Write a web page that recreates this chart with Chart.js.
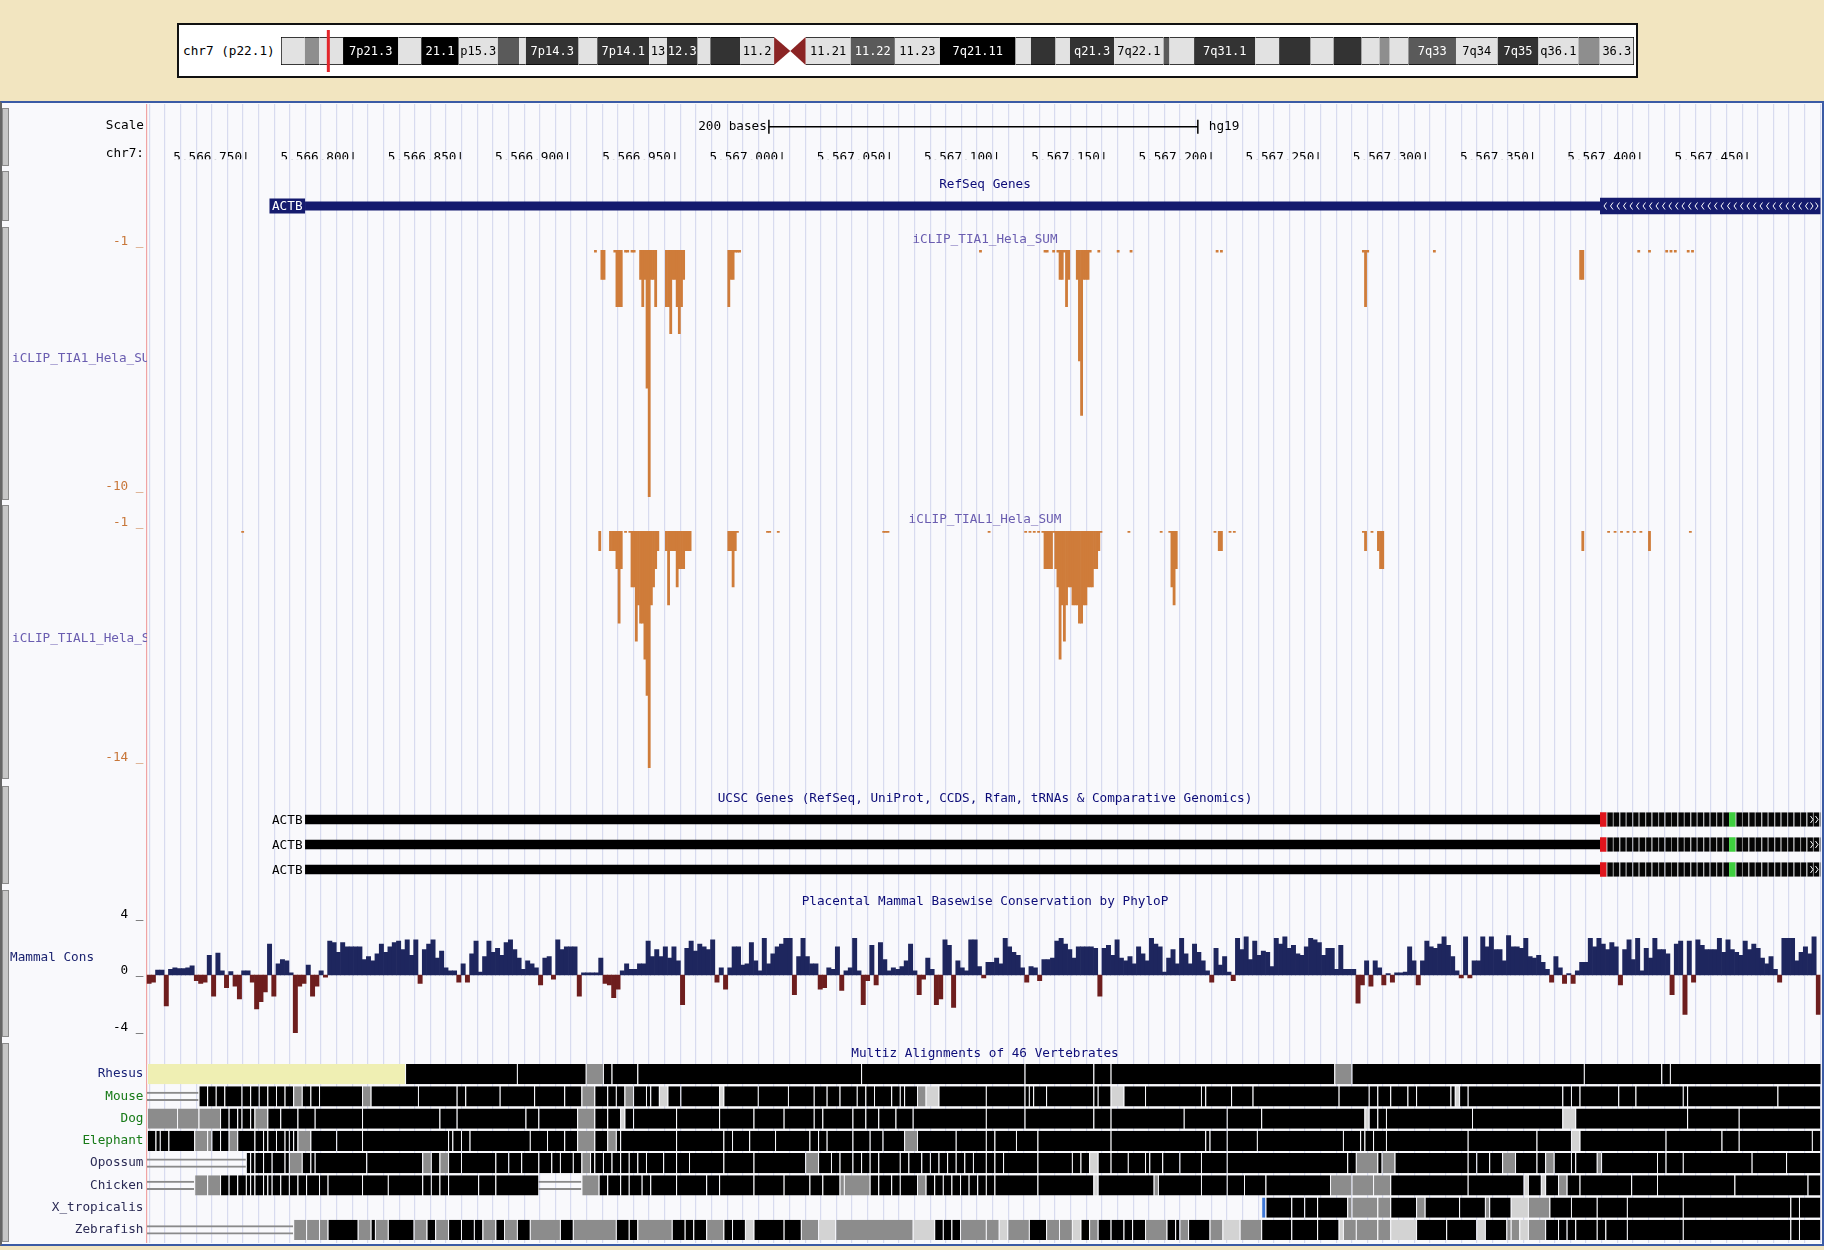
<!DOCTYPE html>
<html lang="en">
<head>
<meta charset="utf-8">
<title>ACTB - UCSC Genome Browser view</title>
<script src="https://cdn.jsdelivr.net/npm/chart.js@4.4.1/dist/chart.umd.min.js"></script>
<style>
  * { box-sizing: border-box; }
  html, body { margin: 0; padding: 0; }
  body {
    width: 1824px; height: 1250px; position: relative; overflow: hidden;
    background: #f2e5c0;
    font-family: 'DejaVu Sans Mono', monospace; font-size: 12.7px;
  }
  canvas { position: absolute; }
  #panel {
    position: absolute; left: 0; top: 101px; width: 1824px; height: 1145px;
    background: #f9f9fc; border: 2px solid #3b5ba5; border-left: 2px solid #666;
  }
  #ideoBox {
    position: absolute; left: 177px; top: 23px; width: 1461px; height: 55px;
    background: #fff; border: 2px solid #111;
  }
  .txt { position: absolute; white-space: nowrap; line-height: 15px; height: 15px; margin-top: -7.5px; z-index: 5; overflow: hidden; }
  .handle { position: absolute; left: 2px; width: 7px; background: #c6c6c6; border: 1px solid #8a8a8a; z-index: 4; }
</style>
</head>
<body>
<div id="panel"></div>
<div id="ideoBox"></div>
<canvas id="ideogram" width="1357" height="42" style="left:279px;top:30px;z-index:3"></canvas>
<canvas id="grid" width="1824" height="1139" style="left:0;top:104px;z-index:1"></canvas>
<canvas id="ruler" width="1824" height="62" style="left:0;top:104px;z-index:2"></canvas>
<canvas id="refseq" width="1824" height="18" style="left:0;top:197px;z-index:2"></canvas>
<canvas id="tia1" width="1824" height="279" style="left:0;top:230px;z-index:2"></canvas>
<canvas id="tial1" width="1824" height="269" style="left:0;top:511px;z-index:2"></canvas>
<canvas id="ucsc" width="1824" height="75" style="left:0;top:807px;z-index:2"></canvas>
<canvas id="phylop" width="1824" height="156" style="left:0;top:893px;z-index:2"></canvas>
<canvas id="multiz" width="1824" height="202" style="left:0;top:1051px;z-index:2"></canvas>
<script>
// ---- window on chr7 (hg19) ----
const viewStart = 5566703.3;
const viewEnd = 5567481.5;
const viewCenter = 5567092;
const rulerTicks = [5566750, 5566800, 5566850, 5566900, 5566950, 5567000, 5567050,
                    5567100, 5567150, 5567200, 5567250, 5567300, 5567350, 5567400, 5567450];
const scaleBar = [5566993.5, 5567193.5];
const gridStart = 5566704.6;
const gridStep = 7.26;

// ---- chr7 ideogram ----
const chr7Length = 159138663;
const cytoStart = [0, 2800000, 4500000, 7300000, 13800000, 16500000, 20900000, 25500000, 28000000,
  28800000, 35000000, 37200000, 43300000, 45400000, 49000000, 50500000, 54000000, 58000000,
  59900000, 61700000, 67000000, 72200000, 77500000, 86400000, 88200000, 91100000, 92800000,
  98000000, 103800000, 104500000, 107400000, 114600000, 117400000, 121100000, 123800000,
  127100000, 129200000, 130400000, 132600000, 138200000, 143100000, 147900000, 152600000, 155100000];
const cytoName = ['p22.3', 'p22.2', 'p22.1', 'p21.3', 'p21.2', 'p21.1', 'p15.3', 'p15.2', 'p15.1',
  'p14.3', 'p14.2', 'p14.1', 'p13', 'p12.3', 'p12.2', 'p12.1', 'p11.2', 'p11.1', 'q11.1', 'q11.21',
  'q11.22', 'q11.23', 'q21.11', 'q21.12', 'q21.13', 'q21.2', 'q21.3', 'q22.1', 'q22.2', 'q22.3',
  'q31.1', 'q31.2', 'q31.31', 'q31.32', 'q31.33', 'q32.1', 'q32.2', 'q32.3', 'q33', 'q34', 'q35',
  'q36.1', 'q36.2', 'q36.3'];
const cytoStain = ['gneg', 'gpos25', 'gneg', 'gpos100', 'gneg', 'gpos100', 'gneg', 'gpos50', 'gneg',
  'gpos75', 'gneg', 'gpos75', 'gneg', 'gpos75', 'gneg', 'gpos75', 'gneg', 'acen', 'acen', 'gneg',
  'gpos50', 'gneg', 'gpos100', 'gneg', 'gpos75', 'gneg', 'gpos75', 'gneg', 'gpos50', 'gneg',
  'gpos75', 'gneg', 'gpos75', 'gneg', 'gpos75', 'gneg', 'gpos25', 'gneg', 'gpos50', 'gneg', 'gpos75',
  'gneg', 'gpos25', 'gneg'];
const cytoLabel = ['', '', '', '7p21.3', '', '21.1', 'p15.3', '', '', '7p14.3', '', '7p14.1', '13',
  '12.3', '', '', '11.2', '', '', '11.21', '11.22', '11.23', '7q21.11', '', '', '', 'q21.3', '7q22.1',
  '', '', '7q31.1', '', '', '', '', '', '', '', '7q33', '7q34', '7q35', 'q36.1', '', '36.3'];

// ---- ACTB gene models ----
const geneName = 'ACTB';
const txStart = 5566777;
const cdsStart = 5567379;
const txEnd = 5570232;
const ucscRows = ['ACTB-1', 'ACTB-2', 'ACTB-3'];
const greenCodon = 20;

// ---- iCLIP counts (minus strand, per base) ----
const tia1Pos = [
  5566912, 5566915, 5566916, 5566921, 5566922, 5566923, 5566924, 5566926, 5566927, 5566929,
  5566930, 5566933, 5566934, 5566935, 5566936, 5566937, 5566938, 5566939, 5566940, 5566945,
  5566946, 5566947, 5566948, 5566949, 5566950, 5566951, 5566952, 5566953, 5566974, 5566975,
  5566976, 5566977, 5566978, 5566979, 5567091, 5567121, 5567122, 5567125, 5567127, 5567128,
  5567129, 5567130, 5567131, 5567132, 5567136, 5567137, 5567138, 5567139, 5567140, 5567141,
  5567142, 5567146, 5567155, 5567161, 5567201, 5567203, 5567269, 5567270, 5567271, 5567302,
  5567370, 5567371, 5567397, 5567402, 5567410, 5567412, 5567414, 5567420, 5567422];
const tia1Val = [
  -1, -2, -2, -1, -3, -3, -3, -1, -1, -1,
  -1, -2, -3, -2, -6, -10, -2, -2, -3, -3,
  -3, -4, -2, -2, -3, -4, -3, -2, -3, -2,
  -2, -1, -1, -1, -1, -1, -1, -1, -1, -2,
  -2, -1, -3, -2, -2, -5, -7, -2, -2, -2,
  -1, -1, -1, -1, -1, -1, -1, -3, -1, -1,
  -2, -2, -1, -1, -1, -1, -1, -1, -1];
const tial1Pos = [
  5566748, 5566914, 5566919, 5566920, 5566921, 5566922, 5566923, 5566924, 5566926, 5566928,
  5566929, 5566930, 5566931, 5566932, 5566933, 5566934, 5566935, 5566936, 5566937, 5566938,
  5566939, 5566940, 5566941, 5566945, 5566946, 5566947, 5566948, 5566949, 5566950, 5566951,
  5566952, 5566953, 5566954, 5566955, 5566956, 5566974, 5566975, 5566976, 5566977, 5566978,
  5566992, 5566993, 5566997, 5567046, 5567047, 5567048, 5567095, 5567112, 5567114, 5567116,
  5567118, 5567120, 5567121, 5567122, 5567123, 5567124, 5567125, 5567126, 5567127, 5567128,
  5567129, 5567130, 5567131, 5567132, 5567133, 5567134, 5567135, 5567136, 5567137, 5567138,
  5567139, 5567140, 5567141, 5567142, 5567143, 5567144, 5567145, 5567146, 5567147, 5567160,
  5567175, 5567179, 5567180, 5567181, 5567182, 5567200, 5567202, 5567203, 5567207, 5567209,
  5567269, 5567270, 5567273, 5567276, 5567277, 5567278, 5567371, 5567383, 5567386, 5567389,
  5567392, 5567395, 5567398, 5567402, 5567421];
const tial1Val = [
  -1, -2, -2, -2, -2, -3, -6, -3, -1, -1,
  -4, -4, -7, -5, -6, -6, -8, -10, -14, -5,
  -4, -3, -2, -2, -5, -2, -2, -2, -4, -3,
  -3, -3, -2, -2, -2, -2, -2, -4, -2, -1,
  -1, -1, -1, -1, -1, -1, -1, -1, -1, -1,
  -1, -1, -3, -3, -3, -3, -1, -3, -4, -8,
  -5, -7, -5, -4, -4, -5, -5, -5, -6, -6,
  -5, -5, -4, -4, -4, -3, -3, -2, -1, -1,
  -1, -1, -4, -5, -3, -1, -2, -2, -1, -1,
  -1, -2, -1, -2, -3, -3, -2, -1, -1, -1,
  -1, -1, -1, -2, -1];

// ---- placental mammal phyloP, one value per 2 bases ----
const phyloPStart = 5566703.5;
const phyloPBin = 2;
const phyloP = [
  -0.6, -0.5, 0.35, 0.35, -2.2, 0.4, 0.5, 0.45, 0.45, 0.5,
  0.65, -0.4, -0.6, -0.5, 1.4, -1.5, 1.55, 0.3, -0.9, 0.25,
  -0.8, -1.7, 0.3, 0.3, -0.5, -2.4, -1.9, -1.2, 2.2, -1.5,
  0.8, 1.1, 1.0, 0.15, -4.1, -0.8, -0.6, 0.7, -1.5, -0.8,
  0.3, -0.15, 2.4, 2.3, 1.6, 2.3, 2.0, 2.0, 2.0, 2.0,
  1.1, 1.3, 1.0, 1.5, 2.2, 1.6, 2.0, 2.3, 2.4, 1.8,
  2.5, 1.4, 2.5, -0.6, 1.8, 2.2, 2.5, 1.2, 1.7, 0.5,
  0.3, 0.3, -0.5, 0.8, -0.5, 1.5, 2.4, 0.2, 1.3, 2.4,
  1.6, 1.9, 1.4, 2.3, 2.5, 1.8, 1.2, 0.4, 1.0, 0.8,
  0.5, -0.7, 1.2, 1.3, -0.3, 2.5, 1.8, 2.0, 2.0, 2.0,
  -1.5, 0.15, 0.15, 0.15, 0.15, 1.2, -0.6, -0.7, -1.6, -1.0,
  0.3, 0.8, 0.4, 0.4, 0.8, 0.8, 2.4, 1.3, 1.8, 1.3,
  2.0, 1.2, 2.0, 1.0, -2.1, 1.9, 2.4, 1.7, 2.2, 2.0,
  1.8, 2.5, -0.5, 0.5, -1.0, 0.5, 2.0, 2.0, 0.7, 0.8,
  2.3, 1.0, 0.3, 2.6, 0.8, 1.5, 2.0, 2.2, 2.6, 2.6,
  -1.4, 1.3, 2.6, 1.3, 0.8, 0.8, -1.0, -0.9, 0.5, 0.4,
  2.0, -1.1, 0.3, 0.5, 2.6, 0.3, -2.1, -0.4, 2.1, -0.7,
  2.3, 1.1, 0.3, 0.5, 0.4, 0.6, 1.0, 2.2, 0.3, -1.4,
  -0.3, 1.2, 0.4, -2.1, -1.7, 2.5, 2.1, -2.3, 1.0, 0.5,
  0.3, 2.5, 2.5, 0.6, -0.2, 0.9, 0.9, 1.2, 0.8, 2.6,
  2.0, 1.6, 1.4, 0.5, -0.5, 0.6, 0.5, -0.4, 1.1, 1.1,
  1.2, 2.4, 2.6, 2.2, 1.8, 1.2, 2.0, 2.0, 2.0, 2.0,
  1.9, -1.5, 1.9, 2.1, 1.4, 2.5, 1.2, 1.0, 1.3, 0.8,
  2.0, 1.5, 1.0, 2.6, 2.2, 2.0, 0.2, 1.2, 1.8, 0.8,
  2.6, 1.5, 0.8, 2.2, 1.6, 1.0, 0.3, -0.5, 1.9, 0.7,
  1.3, 0.2, -0.4, 2.6, 1.8, 2.7, 1.1, 2.4, 1.4, 1.7,
  1.6, 0.6, 2.6, 2.2, 2.7, 1.9, 2.1, 1.5, 1.4, 2.0,
  2.6, 2.5, 2.3, 1.4, 1.9, 1.9, 0.4, 2.1, 0.4, 0.4,
  0.4, -2.0, -0.7, 1.0, -0.8, 1.0, 0.5, -0.7, 0.1, -0.5,
  0.15, 0.15, 0.2, 2.0, 1.0, -0.7, 1.0, 2.4, 2.0, 1.9,
  2.2, 2.7, 2.1, 1.3, 0.3, -0.2, 2.7, -0.2, 1.0, 1.0,
  2.7, 2.0, 2.7, 1.8, 1.8, 1.0, 2.8, 2.0, 2.0, 1.9,
  2.6, 1.3, 1.2, 1.4, 0.9, 0.4, -0.5, 1.3, 0.5, -0.6,
  0.1, -0.6, 0.3, 0.9, 0.9, 2.6, 2.0, 2.6, 2.2, 1.8,
  2.3, 2.0, -0.7, 1.8, 2.5, 1.1, 2.6, 0.3, 1.9, 1.2,
  2.6, 1.8, 1.8, 1.5, -1.4, 2.2, 2.4, -2.8, 2.4, -0.5,
  2.5, 2.1, 1.8, 1.8, 1.8, 2.6, 1.6, 2.5, 1.8, 1.6,
  1.4, 2.4, 1.8, 2.2, 1.9, 1.2, 0.8, 1.3, 0.4, -0.5,
  2.6, 2.6, 2.6, 1.0, 1.6, 2.0, 1.5, 2.7, -2.8
];
const phyloTicks = [4, 0, -4];

// ---- Multiz 46-way: blocks as <kind><length in 2-base units> ----
// K aligned, G weaker, L weakest, D unaligned (double line), E nothing, Y missing data, B insertion mark
const multizStart = 5566703.5;
const multizUnit = 2;
const species = ['Rhesus', 'Mouse', 'Dog', 'Elephant', 'Opossum', 'Chicken', 'X_tropicalis', 'Zebrafish'];
const speciesColor = ['#1a2378', '#177a17', '#177a17', '#177a17', '#2b2b55', '#2b2b55', '#2b2b55', '#2b2b55'];
const rhesusRow = 'Y60 K26 K16 G4 K2 K6 K52 K38 K16 K4 K52 G4 K54 K18 K2 K36';
const mouseRow = 'D12 K2 K2 K2 K4 K2 K2 K2 K2 K2 K2 G2 K2 K2 K10 G2 K11 K9 K2 K8 K8 K7 K4 G3 K3 K2 K2 G2 K3 K1 K2 L2 K3 K9 L1 K8 K7 K6 K3 K3 K4 K2 K2 K4 K2 K1 K3 G2 L3 K11 ' +
  'K9 K1 K1 K3 K11 K1 K3 L3 K5 K13 K1 K6 K5 K20 K7 K2 K3 K4 K2 K8 K1 L1 K2 K22 K2 K2 K9 K4 K11 K1 K21 K10';
const dogRow = 'G7 G5 G5 K2 K2 K1 K2 K1 G3 K3 K4 K4 K11 K18 K4 K16 K3 K9 G4 K3 K3 L1 K2 K10 K10 K8 K7 K7 K2 K7 K3 K3 K4 K4 K17 ' +
  'K9 K16 K4 K17 K10 K8 K24 L1 K2 K2 K20 K21 L3 K26 K12 K19';
const elephantRow = 'K2 K1 K2 K6 G3 G1 K2 K2 G2 K4 K2 K1 K2 K2 K1 K1 K1 G3 K6 K6 K20 K1 K2 K2 K14 K4 K4 K3 G4 K3 G2 K1 K13 K11 K2 K4 K6 K8 K2 K2 K6 K4 K3 K5 G3 K9 K7 ' +
  'K2 K5 K5 K17 K22 K1 K4 K7 K20 K4 K1 K2 K3 K19 K16 K8 L2 K20 K13 K4 K17 K2';
const opossumRow = 'D23 K1 K1 K2 K2 K3 K1 G3 K2 K1 K12 K13 G2 K2 G2 K3 K8 K3 K3 K4 K3 K2 K3 K2 G2 K1 K2 K2 K2 K2 K2 K2 K4 K3 K3 K8 K7 K12 G3 K3 K2 K3 K2 K2 K2 K5 K2 K3 K2 K2 K2 K2 K2 K2 K3 ' +
  'K2 K2 K8 K8 K2 K2 L2 K3 K4 K4 K1 K3 K4 K5 K6 K28 K2 G5 K1 G3 K17 K2 K3 K3 G3 K5 K2 G2 K4 K1 K5 G1 K13 K2 K4 K16 K8 K8';
const chickenRow = 'D11 G3 G3 K2 K2 K2 K1 K1 K2 K1 K1 K2 K2 K2 K2 K3 K2 K8 K6 K8 K2 K2 K2 K7 K4 K10 D10 G4 K2 K3 K2 K3 K2 K6 K7 K3 K8 K7 K6 K3 K4 G1 G6 K2 K3 K2 K4 G2 K2 K2 K2 K2 K2 K2 K2 ' +
  'K2 K10 K13 L1 K13 G1 K10 K6 K4 K5 K15 G5 G5 G4 K18 K13 L1 K3 L1 K3 G2 K3 K12 K6 K18 K17 K3';
const xtropRow = 'E259 B1 K6 K3 K3 K7 G1 G6 G3 K6 G2 K8 K6 G1 K5 L4 G5 K5 K6 K7 K13 K25 K2 K5';
const zebrafishRow = 'D34 G3 G3 G2 K7 G3 K1 G3 K6 G3 K2 G3 K3 K3 K2 G3 K2 G3 K3 G7 K3 G10 K3 K2 G8 K3 K2 K3 G4 K2 K3 L2 K7 K4 G4 L4 G18 L5 K2 K2 K2 G6 ' +
  'G3 L2 G5 K4 G3 G3 L2 K2 G2 K3 K3 K2 K3 G5 K2 K1 G2 K5 G3 L4 G5 K7 K6 K5 L1 G3 G5 G3 L6 K7 K7 L2 K5 G1 G2 L2 G4 K3 K2 K2 K5 K2 K5 K13 K25 K2 K5';
const multizRows = [rhesusRow, mouseRow, dogRow, elephantRow, opossumRow, chickenRow, xtropRow, zebrafishRow];

// ---- styles ----
const labelWidth = 146.5;
const dataRight = 1820.5;
const monoFont = "12.7px 'DejaVu Sans Mono', monospace";
const navy = '#151b6e';
const iclipColor = '#cf7c3a';
const iclipTick = '#c8773a';
const stainColor = {gneg: '#e2e2e2', gpos25: '#8e8e8e', gpos50: '#5a5a5a', gpos75: '#333333', gpos100: '#000000', acen: 'rgba(0,0,0,0)'};
const darkStains = ['gpos50', 'gpos75', 'gpos100'];
const shadeColor = {K: '#000000', G: '#8c8c8c', L: '#d3d3d3', Y: '#efefb3', B: '#3f78d6'};

Chart.defaults.font.family = "'DejaVu Sans Mono', monospace";
Chart.defaults.font.size = 12.7;
Chart.defaults.color = '#000';
Chart.defaults.animation = false;
Chart.defaults.responsive = false;
Chart.defaults.events = [];
Chart.defaults.plugins.legend.display = false;
Chart.defaults.plugins.tooltip.enabled = false;

const fitLeft = axis => { axis.width = labelWidth; };
const pad = (left, top, bottom) => ({left: left, right: 1824 - dataRight, top: top, bottom: bottom});
const xHidden = () => ({type: 'linear', min: viewStart, max: viewEnd, offset: false, display: false});
const withCommas = v => String(v).replace(/\B(?=(\d{3})+(?!\d))/g, ',');

// ---- ideogram ----
const ideogramDecor = {
  id: 'ideogramDecor',
  afterDatasetsDraw(chart) {
    const {ctx, chartArea: area, scales: {x}} = chart;
    ctx.save();
    ctx.font = "12px 'DejaVu Sans Mono', monospace";
    ctx.textAlign = 'center';
    ctx.textBaseline = 'middle';
    chart.getDatasetMeta(0).data.forEach((el, i) => {
      const left = Math.min(el.x, el.base), right = Math.max(el.x, el.base);
      const top = el.y - el.height / 2, bottom = el.y + el.height / 2;
      if (cytoStain[i] === 'acen') {
        ctx.fillStyle = '#8b2424';
        ctx.beginPath();
        if (cytoName[i][0] === 'p') {
          ctx.moveTo(left, top); ctx.lineTo(right, el.y); ctx.lineTo(left, bottom);
        } else {
          ctx.moveTo(right, top); ctx.lineTo(left, el.y); ctx.lineTo(right, bottom);
        }
        ctx.closePath();
        ctx.fill();
      } else if (cytoLabel[i]) {
        ctx.fillStyle = darkStains.includes(cytoStain[i]) ? '#fff' : '#000';
        ctx.fillText(cytoLabel[i], (left + right) / 2, el.y + 1);
      }
    });
    const mx = x.getPixelForValue(viewCenter);
    ctx.fillStyle = '#e3262b';
    ctx.fillRect(mx - 1.5, area.top - 7, 3, area.bottom - area.top + 14);
    ctx.restore();
  }
};
const lastBand = cytoStart.length - 1;
new Chart(document.getElementById('ideogram'), {
  type: 'bar',
  data: {
    labels: ['chr7'],
    datasets: [{
      data: cytoStart.map((s, i) => ({y: 'chr7', x: [s, i < lastBand ? cytoStart[i + 1] : chr7Length]})),
      backgroundColor: c => stainColor[cytoStain[c.dataIndex]],
      borderColor: '#000',
      borderWidth: c => cytoStain[c.dataIndex] === 'acen' ? 0 :
        {top: 1, bottom: 1, left: c.dataIndex === 0 ? 1 : 0, right: c.dataIndex === lastBand ? 1 : 0},
      borderSkipped: false,
      barPercentage: 1, categoryPercentage: 1, grouped: false
    }]
  },
  options: {
    indexAxis: 'y',
    layout: {padding: {left: 2, right: 2, top: 7, bottom: 7}},
    scales: {
      x: {type: 'linear', min: 0, max: chr7Length, display: false},
      y: {display: false}
    }
  },
  plugins: [ideogramDecor]
});

// ---- background guidelines ----
const gridLines = [];
for (let v = gridStart; v < viewEnd; v += gridStep) gridLines.push(v);
new Chart(document.getElementById('grid'), {
  type: 'bar',
  data: {datasets: []},
  options: {
    layout: {padding: pad(0, 0, 0), autoPadding: false},
    scales: {
      x: {type: 'linear', min: viewStart, max: viewEnd, offset: false, position: 'bottom',
          afterBuildTicks: a => { a.ticks = gridLines.map(v => ({value: v})); },
          ticks: {display: false}, grid: {color: '#d8dbef', lineWidth: 1.2, drawTicks: false, offset: false}, border: {display: false}},
      y: {min: 0, max: 1, afterFit: fitLeft, ticks: {display: false},
          grid: {display: false, drawTicks: false}, border: {color: '#f0a3a3', width: 1.2}}
    }
  }
});

// ---- base position ruler ----
const rulerText = {
  id: 'rulerText',
  afterDatasetsDraw(chart) {
    const pts = chart.getDatasetMeta(0).data;
    const ctx = chart.ctx;
    ctx.save();
    ctx.font = monoFont;
    ctx.fillStyle = '#000';
    ctx.textBaseline = 'middle';
    ctx.textAlign = 'right';
    ctx.fillText('200 bases', pts[0].x - 2, pts[0].y);
    ctx.textAlign = 'left';
    ctx.fillText('hg19', pts[1].x + 11, pts[1].y);
    ctx.restore();
  }
};
new Chart(document.getElementById('ruler'), {
  type: 'line',
  data: {datasets: [{
    data: scaleBar.map(v => ({x: v, y: 0})),
    borderColor: '#000', borderWidth: 1.5,
    pointStyle: 'line', rotation: 90, pointRadius: 7, pointBorderWidth: 1.5, pointBorderColor: '#000'
  }]},
  options: {
    layout: {padding: pad(labelWidth, 12, 6.8)},
    scales: {
      x: {type: 'linear', min: viewStart, max: viewEnd, offset: false, position: 'bottom',
          afterBuildTicks: a => { a.ticks = rulerTicks.map(v => ({value: v})); },
          ticks: {align: 'end', padding: 12, labelOffset: 3, autoSkip: false, maxRotation: 0, color: '#000',
                  callback: v => withCommas(v) + '|'},
          grid: {display: false, drawTicks: false}, border: {display: false}},
      y: {display: false, min: -1, max: 1}
    }
  },
  plugins: [rulerText]
});

// ---- gene tracks ----
const geneDecor = {
  id: 'geneDecor',
  afterDatasetsDraw(chart, args, o) {
    const {ctx, chartArea: a, scales: {x, y}} = chart;
    const sx = x.getPixelForValue(txStart), cx = x.getPixelForValue(cdsStart);
    ctx.save();
    ctx.font = monoFont;
    ctx.textBaseline = 'middle';
    ctx.textAlign = 'right';
    o.rows.forEach((r, i) => {
      const cy = y.getPixelForValue(i);
      const w = ctx.measureText(geneName).width;
      if (o.box) { ctx.fillStyle = o.box; ctx.fillRect(sx - w - 5, cy - 7.5, w + 5, 15); }
      ctx.fillStyle = o.text;
      ctx.fillText(geneName, sx - 2.5, cy + 1);
      ctx.strokeStyle = '#fff';
      ctx.lineWidth = 1;
      ctx.beginPath();
      if (o.chevrons) {
        for (let px = cx + 4; px < a.right - 14; px += 6.5) {
          ctx.moveTo(px + 2.5, cy - 3.5); ctx.lineTo(px, cy); ctx.lineTo(px + 2.5, cy + 3.5);
        }
      }
      for (const px of [a.right - 10, a.right - 5]) {
        ctx.moveTo(px, cy - 3.5); ctx.lineTo(px + 2.5, cy); ctx.lineTo(px, cy + 3.5);
      }
      ctx.stroke();
    });
    ctx.restore();
  }
};
new Chart(document.getElementById('refseq'), {
  type: 'bar',
  data: {
    labels: [geneName],
    datasets: [
      {data: [{y: geneName, x: [txStart, cdsStart]}], backgroundColor: navy, barPercentage: 0.5, categoryPercentage: 1, grouped: false},
      {data: [{y: geneName, x: [cdsStart, txEnd]}], backgroundColor: navy, barPercentage: 0.92, categoryPercentage: 1, grouped: false}
    ]
  },
  options: {
    indexAxis: 'y',
    layout: {padding: pad(labelWidth, 0, 0), autoPadding: false},
    scales: {x: xHidden(), y: {display: false}},
    plugins: {geneDecor: {rows: [geneName], box: navy, text: '#fff', chevrons: true}}
  },
  plugins: [geneDecor]
});

const codons = [];
ucscRows.forEach(row => {
  let k = 0;
  for (let s = cdsStart; s < viewEnd; s += 3, k++) codons.push({y: row, x: [s, s + 3], k: k});
});
new Chart(document.getElementById('ucsc'), {
  type: 'bar',
  data: {
    labels: ucscRows,
    datasets: [
      {data: ucscRows.map(r => ({y: r, x: [txStart, cdsStart]})), backgroundColor: '#000',
       barPercentage: 0.38, categoryPercentage: 1, grouped: false},
      {data: codons,
       backgroundColor: c => c.raw.k === 0 ? '#e0141c' : c.raw.k === greenCodon ? '#3fcf3f' : '#050505',
       borderColor: '#808080',
       borderWidth: c => (c.raw.k === 0 || c.raw.k === greenCodon) ? 0 : {left: 1, right: 0, top: 0, bottom: 0},
       borderSkipped: false, inflateAmount: 0,
       barPercentage: 0.58, categoryPercentage: 1, grouped: false}
    ]
  },
  options: {
    indexAxis: 'y',
    layout: {padding: pad(labelWidth, 0, 0), autoPadding: false},
    scales: {x: xHidden(), y: {display: false}},
    plugins: {geneDecor: {rows: ucscRows, box: null, text: '#000', chevrons: false}}
  },
  plugins: [geneDecor]
});

// ---- iCLIP tracks ----
function iclipChart(id, pos, val, bottom) {
  return new Chart(document.getElementById(id), {
    type: 'bar',
    data: {datasets: [{
      data: pos.map((p, i) => ({x: p, y: val[i]})),
      backgroundColor: iclipColor, barPercentage: 1, categoryPercentage: 1
    }]},
    options: {
      layout: {padding: pad(0, 20, 12), autoPadding: false},
      scales: {
        x: xHidden(),
        y: {min: bottom, max: -0.92, afterFit: fitLeft,
            afterBuildTicks: a => { a.ticks = [-1, bottom].map(v => ({value: v})); },
            ticks: {color: iclipTick, padding: 3, labelOffset: -10, callback: v => v + ' _'},
            grid: {display: false, drawTicks: false}, border: {display: false}}
      }
    }
  });
}
iclipChart('tia1', tia1Pos, tia1Val, -10);
iclipChart('tial1', tial1Pos, tial1Val, -14);

// ---- conservation ----
new Chart(document.getElementById('phylop'), {
  type: 'bar',
  data: {datasets: [{
    data: phyloP.map((v, i) => ({x: phyloPStart + phyloPBin * i + phyloPBin / 2, y: v})),
    backgroundColor: c => c.raw.y >= 0 ? '#1e265e' : '#6e1e1e',
    barPercentage: 1, categoryPercentage: 1
  }]},
  options: {
    layout: {padding: pad(0, 20, 12), autoPadding: false},
    scales: {
      x: xHidden(),
      y: {min: -4.4, max: 4.4, afterFit: fitLeft,
          afterBuildTicks: a => { a.ticks = phyloTicks.map(v => ({value: v})); },
          ticks: {color: '#000', padding: 3, labelOffset: -4, callback: v => v + ' _'},
          grid: {display: false, drawTicks: false}, border: {display: false}}
    }
  }
});

// ---- multiz alignments ----
const blockData = [], gapData = [];
multizRows.forEach((spec, r) => {
  let u = 0;
  spec.trim().split(/\s+/).forEach(tok => {
    const kind = tok[0], n = +tok.slice(1);
    const seg = {y: species[r], x: [multizStart + u * multizUnit, multizStart + (u + n) * multizUnit], kind: kind};
    if (kind === 'D') gapData.push(seg);
    else if (kind !== 'E') blockData.push(seg);
    u += n;
  });
});
new Chart(document.getElementById('multiz'), {
  type: 'bar',
  data: {
    labels: species,
    datasets: [
      {data: blockData, backgroundColor: c => shadeColor[c.raw.kind],
       borderColor: '#f4f4f8', borderWidth: {left: 1, right: 0, top: 0, bottom: 0}, borderSkipped: false,
       inflateAmount: 0, barPercentage: 0.92, categoryPercentage: 1, grouped: false},
      {data: gapData, backgroundColor: 'rgba(0,0,0,0)',
       borderColor: '#8a8a8a', borderWidth: {left: 0, right: 0, top: 2, bottom: 2}, borderSkipped: false,
       inflateAmount: 0, barPercentage: 0.42, categoryPercentage: 1, grouped: false}
    ]
  },
  options: {
    indexAxis: 'y',
    layout: {padding: pad(0, 12, 12), autoPadding: false},
    scales: {
      x: xHidden(),
      y: {afterFit: fitLeft, ticks: {color: c => speciesColor[c.index], padding: 3},
          grid: {display: false, drawTicks: false}, border: {display: false}}
    }
  }
});

// ---- captions ----
const captions = [
  ['chr7 (p22.1)', 183, 50, 'left', '#000'],
  ['Scale', 144, 124, 'right', '#000'],
  ['chr7:', 144, 152, 'right', '#000'],
  ['RefSeq Genes', 985, 183, 'center', '#0c0c78'],
  ['iCLIP_TIA1_Hela_SUM', 985, 238, 'center', '#6a5db0'],
  ['iCLIP_TIAL1_Hela_SUM', 985, 518, 'center', '#6a5db0'],
  ['UCSC Genes (RefSeq, UniProt, CCDS, Rfam, tRNAs & Comparative Genomics)', 985, 797, 'center', '#0c0c78'],
  ['Placental Mammal Basewise Conservation by PhyloP', 985, 900, 'center', '#0c0c78'],
  ['Multiz Alignments of 46 Vertebrates', 985, 1052, 'center', '#0c0c78'],
  ['iCLIP_TIA1_Hela_SUM', 12, 357, 'clip', '#6a5db0'],
  ['iCLIP_TIAL1_Hela_SUM', 12, 637, 'clip', '#6a5db0'],
  ['Mammal Cons', 10, 956, 'left', '#1c2470']
];
captions.forEach(([text, x, y, align, color]) => {
  const d = document.createElement('div');
  d.className = 'txt';
  d.textContent = text;
  d.style.top = y + 'px';
  d.style.color = color;
  if (align === 'right') { d.style.right = (1824 - x) + 'px'; d.style.textAlign = 'right'; }
  else if (align === 'center') { d.style.left = x + 'px'; d.style.transform = 'translateX(-50%)'; }
  else { d.style.left = x + 'px'; }
  if (align === 'clip') d.style.width = (labelWidth - x) + 'px';
  document.body.appendChild(d);
});

// track handles on the left edge
[[108, 166], [171, 221], [227, 500], [505, 779], [786, 884], [890, 1037], [1043, 1242]].forEach(([t, b]) => {
  const h = document.createElement('div');
  h.className = 'handle';
  h.style.top = t + 'px';
  h.style.height = (b - t) + 'px';
  document.body.appendChild(h);
});
</script>
</body>
</html>
